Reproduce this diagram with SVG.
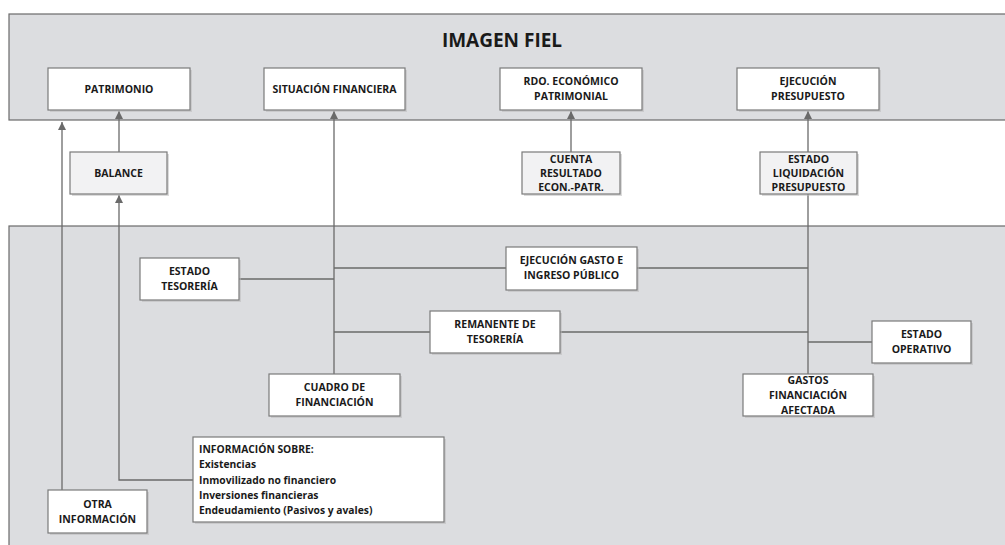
<svg xmlns="http://www.w3.org/2000/svg" width="1005" height="545" viewBox="0 0 1005 545">
<defs>
<style>
.panel{fill:#dcdde0;stroke:#6a6a6a;stroke-width:1.2}
.box{fill:#ffffff;stroke:#7a7a7a;stroke-width:1.2}
.gbox{fill:#f2f2f3;stroke:#7a7a7a;stroke-width:1.2}
.sh{fill:#b8b8b8;opacity:0.5}
.t{font-family:"Open Sans","Liberation Sans",sans-serif;font-weight:700;font-size:10.5px;fill:#1a1a1a;text-anchor:middle}
.tl{font-family:"Open Sans","Liberation Sans",sans-serif;font-weight:700;font-size:10.3px;fill:#1a1a1a}
.title{font-family:"Open Sans","Liberation Sans",sans-serif;font-weight:700;font-size:19px;fill:#1a1a1a;text-anchor:middle}
.ln{fill:none;stroke:#6a6a6a;stroke-width:1.3}
</style>
<marker id="ah" markerWidth="10" markerHeight="10" refX="8" refY="4" orient="auto" markerUnits="userSpaceOnUse">
<path d="M0,0 L8,4 L0,8 Z" fill="#6a6a6a"/>
</marker>
</defs>
<rect width="1005" height="545" fill="#ffffff"/>
<g id="panel-top">
<rect class="panel" x="9" y="14" width="1000" height="106"/>
<text class="title" x="502" y="47">IMAGEN FIEL</text>
</g>
<g id="panel-bottom">
<rect class="panel" x="9" y="226" width="1000" height="330"/>
</g>
<g id="connectors">
<path class="ln" d="M62,490 L62,122" marker-end="url(#ah)"/>
<path class="ln" d="M119,152 L119,111" marker-end="url(#ah)"/>
<path class="ln" d="M193,480 L119,480 L119,195" marker-end="url(#ah)"/>
<path class="ln" d="M334,374 L334,111" marker-end="url(#ah)"/>
<path class="ln" d="M571,152 L571,111" marker-end="url(#ah)"/>
<path class="ln" d="M808,152 L808,111" marker-end="url(#ah)"/>
<path class="ln" d="M808,194 L808,374"/>
<path class="ln" d="M239,279 L334,279"/>
<path class="ln" d="M334,268 L506,268"/>
<path class="ln" d="M637,268 L808,268"/>
<path class="ln" d="M334,332 L430,332"/>
<path class="ln" d="M560,332 L808,332"/>
<path class="ln" d="M808,342 L872,342"/>
</g>
<g id="patrimonio">
<rect class="sh" x="50" y="70" width="142" height="42"/>
<rect class="box" x="48" y="68" width="142" height="42"/>
<text class="t" x="119" y="93">PATRIMONIO</text>
</g>
<g id="situacion-financiera">
<rect class="sh" x="266" y="70" width="141" height="42"/>
<rect class="box" x="264" y="68" width="141" height="42"/>
<text class="t" x="334.5" y="93">SITUACIÓN FINANCIERA</text>
</g>
<g id="rdo-economico">
<rect class="sh" x="502" y="70" width="142" height="42"/>
<rect class="box" x="500" y="68" width="142" height="42"/>
<text class="t" x="571" y="85">RDO. ECONÓMICO</text>
<text class="t" x="571" y="100">PATRIMONIAL</text>
</g>
<g id="ejecucion-presupuesto">
<rect class="sh" x="739" y="70" width="142" height="42"/>
<rect class="box" x="737" y="68" width="142" height="42"/>
<text class="t" x="808" y="85">EJECUCIÓN</text>
<text class="t" x="808" y="100">PRESUPUESTO</text>
</g>
<g id="balance">
<rect class="sh" x="72" y="154" width="97" height="42"/>
<rect class="gbox" x="70" y="152" width="97" height="42"/>
<text class="t" x="118.5" y="177">BALANCE</text>
</g>
<g id="cuenta-resultado">
<rect class="sh" x="524" y="154" width="98" height="42"/>
<rect class="gbox" x="522" y="152" width="98" height="42"/>
<text class="t" x="571" y="163">CUENTA</text>
<text class="t" x="571" y="177">RESULTADO</text>
<text class="t" x="571" y="191">ECON.-PATR.</text>
</g>
<g id="estado-liquidacion">
<rect class="sh" x="762" y="154" width="97" height="42"/>
<rect class="gbox" x="760" y="152" width="97" height="42"/>
<text class="t" x="808.5" y="163">ESTADO</text>
<text class="t" x="808.5" y="177">LIQUIDACIÓN</text>
<text class="t" x="808.5" y="191">PRESUPUESTO</text>
</g>
<g id="estado-tesoreria">
<rect class="sh" x="142" y="260" width="99" height="42"/>
<rect class="box" x="140" y="258" width="99" height="42"/>
<text class="t" x="189.5" y="275">ESTADO</text>
<text class="t" x="189.5" y="290">TESORERÍA</text>
</g>
<g id="ejecucion-gasto">
<rect class="sh" x="508" y="249" width="131" height="43"/>
<rect class="box" x="506" y="247" width="131" height="43"/>
<text class="t" x="571.5" y="264">EJECUCIÓN GASTO E</text>
<text class="t" x="571.5" y="279">INGRESO PÚBLICO</text>
</g>
<g id="remanente-tesoreria">
<rect class="sh" x="432" y="313" width="130" height="42"/>
<rect class="box" x="430" y="311" width="130" height="42"/>
<text class="t" x="495" y="328">REMANENTE DE</text>
<text class="t" x="495" y="343">TESORERÍA</text>
</g>
<g id="cuadro-financiacion">
<rect class="sh" x="271" y="376" width="131" height="42"/>
<rect class="box" x="269" y="374" width="131" height="42"/>
<text class="t" x="334.5" y="391">CUADRO DE</text>
<text class="t" x="334.5" y="406">FINANCIACIÓN</text>
</g>
<g id="estado-operativo">
<rect class="sh" x="874" y="323" width="99" height="42"/>
<rect class="box" x="872" y="321" width="99" height="42"/>
<text class="t" x="921.5" y="338">ESTADO</text>
<text class="t" x="921.5" y="353">OPERATIVO</text>
</g>
<g id="gastos-financiacion">
<rect class="sh" x="745" y="376" width="130" height="42"/>
<rect class="box" x="743" y="374" width="130" height="42"/>
<text class="t" x="808" y="384">GASTOS</text>
<text class="t" x="808" y="399">FINANCIACIÓN</text>
<text class="t" x="808" y="414">AFECTADA</text>
</g>
<g id="informacion-sobre">
<rect class="sh" x="195" y="439" width="251" height="85"/>
<rect class="box" x="193" y="437" width="251" height="85"/>
<text class="tl" x="199" y="453">INFORMACIÓN SOBRE:</text>
<text class="tl" x="199" y="468">Existencias</text>
<text class="tl" x="199" y="484">Inmovilizado no financiero</text>
<text class="tl" x="199" y="499">Inversiones financieras</text>
<text class="tl" x="199" y="514">Endeudamiento (Pasivos y avales)</text>
</g>
<g id="otra-informacion">
<rect class="sh" x="50" y="492" width="99" height="43"/>
<rect class="box" x="48" y="490" width="99" height="43"/>
<text class="t" x="97.5" y="508">OTRA</text>
<text class="t" x="97.5" y="523">INFORMACIÓN</text>
</g>
</svg>
